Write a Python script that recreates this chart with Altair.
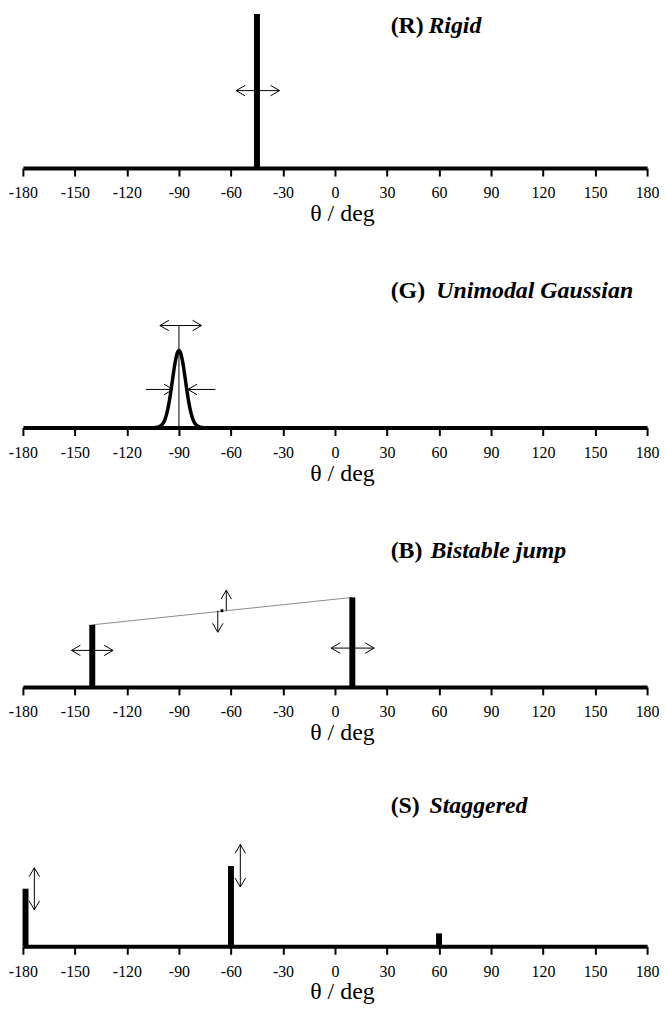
import altair as alt
import pandas as pd

# ---------------- data ----------------
TICKS = [-180, -150, -120, -90, -60, -30, 0, 30, 60, 90, 120, 150, 180]

PANEL_KEYS = ["R", "G", "B", "S"]
TITLE_TAGS = ["(R)", "(G)", "(B)", "(S)"]
TITLE_NAMES = ["Rigid", "Unimodal Gaussian", "Bistable jump", "Staggered"]

R_BAR_THETA = [-45]
R_BAR_HEIGHT = [100]

G_THETA = [-104, -103, -102, -101, -100, -99, -98, -97, -96, -95, -94, -93, -92, -91, -90,
           -89, -88, -87, -86, -85, -84, -83, -82, -81, -80, -79, -78, -77, -76]
G_DENSITY = [0.0, 0.1, 0.3, 0.8, 1.6, 3.0, 5.5, 9.2, 14.4, 21.0, 28.7, 36.6, 43.5, 48.3, 50.0,
             48.3, 43.5, 36.6, 28.7, 21.0, 14.4, 9.2, 5.5, 3.0, 1.6, 0.8, 0.3, 0.1, 0.0]
G_CENTER_THETA = [-90]
G_CENTER_TOP = [66.2]

B_BAR_THETA = [-140, 10]
B_BAR_HEIGHT = [40.3, 58.1]
B_DOT_THETA = [-65.2]
B_DOT_Y = [49.5]

S_BAR_THETA = [-178.5, -60, 60]
S_BAR_HEIGHT = [37.4, 52.1, 8.4]

ARROW_PANEL = ["R", "G", "G", "G", "B", "B", "B", "B", "S", "S"]
ARROW_X1 = [-57, -101, -109, -69, -152, -2.2, -62.7, -67.6, -173.4, -54.6]
ARROW_Y1 = [50.3, 66.2, 24.7, 24.7, 23.7, 25.2, 49.5, 49.5, 23.7, 38.5]
ARROW_X2 = [-32, -77, -93.4, -84.8, -128, 22.6, -62.7, -67.6, -173.4, -54.6]
ARROW_Y2 = [50.3, 66.2, 24.7, 24.7, 23.7, 25.2, 62.8, 35.5, 51.0, 66.1]
ARROW_HEADS = ["both", "both", "end", "end", "both", "both", "end", "end", "both", "both"]

# ---------------- styles / positions ----------------
FONT = "Liberation Serif"
W, H = 628, 155
TITLE_X1 = 370
TITLE_X2 = {"R": 408, "G": 416, "B": 410, "S": 409}
TITLE_Y = {"R": 19, "G": 25, "B": 25, "S": 21}
CHEVRON = "M-1.8,-1.05L0,0L-1.8,1.05"

xscale = alt.Scale(domain=[-180, 180], nice=False, zero=False)
yscale = alt.Scale(domain=[0, 100], nice=False, zero=True)

xaxis = alt.Axis(
    values=TICKS, title="θ / deg", labelExpr="'' + datum.value",
    labelFont=FONT, labelFontSize=16, labelColor="black", labelPadding=9,
    labelFlush=False, labelOverlap=False,
    tickColor="black", tickWidth=2, tickSize=8,
    domainColor="black", domainWidth=4, grid=False,
    titleFont=FONT, titleFontSize=24, titleFontWeight="normal", titleColor="black",
    titlePadding=1, titleX=321,
)


def X(field="theta"):
    return alt.X(f"{field}:Q", scale=xscale, axis=xaxis)


def Y(field):
    return alt.Y(f"{field}:Q", scale=yscale, axis=None)


def heads_for(key):
    rows = []
    for p, x1, y1, x2, y2, hd in zip(ARROW_PANEL, ARROW_X1, ARROW_Y1, ARROW_X2, ARROW_Y2, ARROW_HEADS):
        if p != key:
            continue
        if y1 == y2:
            a_end = 0 if x2 > x1 else 180
        else:
            a_end = 270 if y2 > y1 else 90
        rows.append({"theta": x2, "h": y2, "ang": a_end})
        if hd == "both":
            rows.append({"theta": x1, "h": y1, "ang": (a_end + 180) % 360})
    return pd.DataFrame(rows)


def shafts_for(key):
    rows = []
    for p, x1, y1, x2, y2 in zip(ARROW_PANEL, ARROW_X1, ARROW_Y1, ARROW_X2, ARROW_Y2):
        if p == key:
            rows.append({"theta": x1, "h": y1, "theta2": x2, "h2": y2})
    return pd.DataFrame(rows)


def bars(thetas, heights):
    df = pd.DataFrame({"theta": thetas, "y0": [0] * len(thetas), "h": heights})
    return alt.Chart(df).mark_rule(strokeWidth=6, color="black", strokeCap="butt").encode(
        x=X(), y=Y("y0"), y2="h:Q")


def panel(i, key):
    layers = []
    if key == "R":
        layers.append(bars(R_BAR_THETA, R_BAR_HEIGHT))
    elif key == "G":
        gdf = pd.DataFrame({"theta": G_THETA, "h": G_DENSITY})
        layers.append(alt.Chart(gdf).mark_line(strokeWidth=3.5, color="black", interpolate="monotone")
                      .encode(x=X(), y=Y("h")))
        cdf = pd.DataFrame({"theta": G_CENTER_THETA, "y0": [0], "h": G_CENTER_TOP})
        layers.append(alt.Chart(cdf).mark_rule(strokeWidth=1, color="black")
                      .encode(x=X(), y=Y("y0"), y2="h:Q"))
    elif key == "B":
        ldf = pd.DataFrame({"theta": B_BAR_THETA, "h": B_BAR_HEIGHT})
        layers.append(alt.Chart(ldf).mark_line(strokeWidth=1, color="#8a8a8a")
                      .encode(x=X(), y=Y("h")))
        layers.append(bars(B_BAR_THETA, B_BAR_HEIGHT))
        ddf = pd.DataFrame({"theta": B_DOT_THETA, "h": B_DOT_Y})
        layers.append(alt.Chart(ddf).mark_point(filled=True, size=10, color="black", opacity=1)
                      .encode(x=X(), y=Y("h")))
    elif key == "S":
        layers.append(bars(S_BAR_THETA, S_BAR_HEIGHT))

    sdf = shafts_for(key)
    layers.append(alt.Chart(sdf).mark_rule(strokeWidth=1, color="black")
                  .encode(x=X(), y=Y("h"), x2="theta2:Q", y2="h2:Q"))
    hdf = heads_for(key)
    layers.append(alt.Chart(hdf).mark_point(shape=CHEVRON, size=100, filled=False, color="black",
                                            strokeWidth=1, opacity=1)
                  .encode(x=X(), y=Y("h"), angle=alt.Angle("ang:Q", scale=None)))

    tdf = pd.DataFrame({"tag": [TITLE_TAGS[i]], "name": [TITLE_NAMES[i]]})
    layers.append(alt.Chart(tdf).mark_text(align="left", baseline="alphabetic", font=FONT,
                                           fontSize=24, fontWeight="bold", color="black")
                  .encode(x=alt.value(TITLE_X1), y=alt.value(TITLE_Y[key]), text="tag:N"))
    layers.append(alt.Chart(tdf).mark_text(align="left", baseline="alphabetic", font=FONT,
                                           fontSize=24, fontWeight="bold", fontStyle="italic",
                                           color="black")
                  .encode(x=alt.value(TITLE_X2[key]), y=alt.value(TITLE_Y[key]), text="name:N"))
    return alt.layer(*layers).properties(width=W, height=H)


chart = alt.vconcat(*[panel(i, k) for i, k in enumerate(PANEL_KEYS)], spacing=48).properties(
    padding={"left": 0, "top": 0, "right": 0, "bottom": 5}
).configure_view(stroke=None)

chart.save("out.html", embed_options={"renderer": "svg", "actions": False})
